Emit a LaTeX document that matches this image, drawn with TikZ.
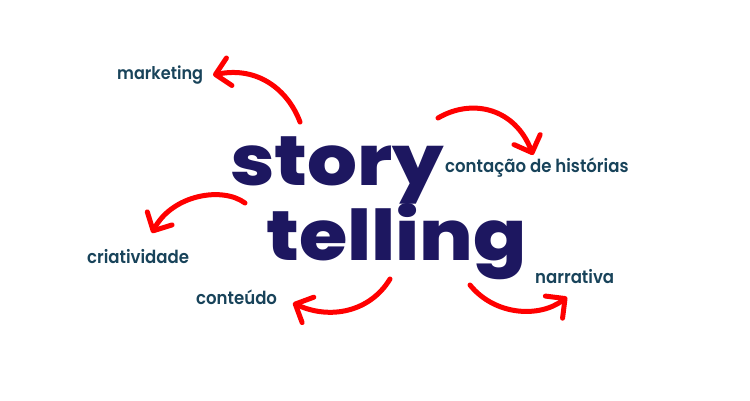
\documentclass[tikz,border=0pt]{standalone}
\usepackage{fontspec}
\setmainfont{Poppins}
\newfontfamily\wordfont{Poppins ExtraBold}[FakeStretch=1.12]
\newfontfamily\labelfont{Poppins SemiBold}[FakeStretch=0.92]
\usetikzlibrary{arrows.meta}
\definecolor{wordnavy}{HTML}{1D1760}
\definecolor{labelblue}{HTML}{18435A}
\definecolor{arrowred}{HTML}{FF0000}
\begin{document}
\begin{tikzpicture}[x=1pt, y=-1pt,
    bigword/.style={text=wordnavy, font=\wordfont\fontsize{70}{70}\selectfont, inner sep=0pt, anchor=base west},
    topic/.style={text=labelblue, font=\labelfont\fontsize{18}{18}\selectfont, inner sep=0pt, anchor=base west},
    curly/.style={draw=arrowred, line width=5pt, line cap=round, -{Straight Barb[length=14pt, width=28pt, round]}}]
        % Canvas (keeps the 750 x 400 proportions)
        \useasboundingbox (0,0) rectangle (750,400);

        % Central words
        \node[bigword] (story) at (230,185) {story};
        \node[bigword] (telling) at (266,260) {telling};

        % Topic labels round the words
        \node[topic, font=\labelfont\fontsize{17.5}{17.5}\selectfont] (marketing) at (117,79) {marketing};
        \node[topic] (contacao) at (445,172) {contação de histórias};
        \node[topic] (criatividade) at (87,263) {criatividade};
        \node[topic] (conteudo) at (196,304) {conteúdo};
        \node[topic] (narrativa) at (535,283) {narrativa};

        % Free ends of the curved arrows
        \coordinate (mkt-tail) at (300,122);
        \coordinate (mkt-tip) at (213,75);
        \coordinate (hist-tail) at (438,118);
        \coordinate (hist-tip) at (533,155);
        \coordinate (cri-tail) at (245,203);
        \coordinate (cri-tip) at (152,233);
        \coordinate (con-tail) at (390,279);
        \coordinate (con-tip) at (293,303);
        \coordinate (nar-tail) at (470,285);
        \coordinate (nar-tip) at (567,297);

        % Curved red arrows
        \draw[curly] (mkt-tail) .. controls (288,90) and (258,66) .. (mkt-tip);
        \draw[curly] (hist-tail) .. controls (472,98) and (515,108) .. (hist-tip);
        \draw[curly] (cri-tail) .. controls (222,186) and (172,195) .. (cri-tip);
        \draw[curly] (con-tail) .. controls (370,312) and (330,320) .. (con-tip);
        \draw[curly] (nar-tail) .. controls (495,316) and (540,318) .. (nar-tip);
    \end{tikzpicture}
\end{document}
